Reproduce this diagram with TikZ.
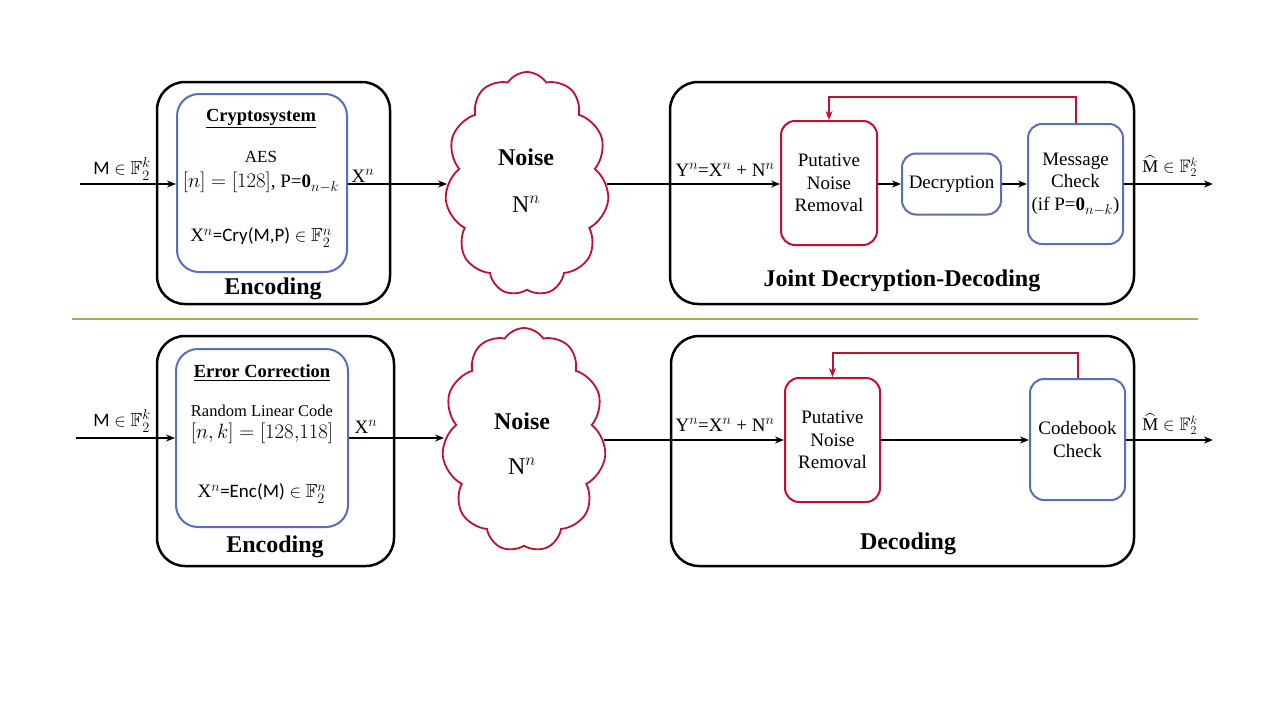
\documentclass[tikz,border=0pt]{standalone}
\usepackage{amsmath,amssymb}
\usepackage{fontspec}
\setmainfont{Liberation Serif}
\newfontfamily\calfont{Carlito}
\usetikzlibrary{shapes.symbols,arrows.meta}
\definecolor{myblue}{HTML}{5B6DB8}
\definecolor{myred}{HTML}{C01030}
\definecolor{mygreen}{HTML}{8FB75A}
\begin{document}
\begin{tikzpicture}[x=1pt,y=-1pt,
  outerbox/.style={draw=black, line width=2.5pt, rounded corners=28pt},
  innerbox/.style={draw=myblue, line width=2pt, rounded corners=22pt},
  redbox/.style={draw=myred, line width=2pt, rounded corners=14pt, align=center, font=\fontsize{19}{22.5}\selectfont},
  bluebox/.style={draw=myblue, line width=2pt, rounded corners=14pt, align=center, font=\fontsize{19}{22.5}\selectfont},
  noisecloud/.style={draw=myred, line width=1.8pt, cloud, cloud puffs=11, cloud puff arc=115, minimum width=164pt, minimum height=224pt},
  conn/.style={line width=2pt, -{Stealth[length=9pt,width=7pt]}},
  fb/.style={draw=myred, line width=2pt, -{Stealth[length=9pt,width=7pt]}},
  lbl/.style={inner sep=0pt, font=\fontsize{19}{22}\selectfont},
  title/.style={inner sep=0pt, font=\fontsize{24}{28}\selectfont\bfseries},
  sub/.style={inner sep=0pt, font=\fontsize{18.5}{22}\selectfont\bfseries}
]
\useasboundingbox (0,0) rectangle (1280,720);
\fill[white] (0,0) rectangle (1280,720);

% ===== TOP ROW =====
\coordinate (in1) at (80,184);
\node[outerbox, minimum width=233pt, minimum height=222pt] (enc1) at (273.5,193) {};
\node[innerbox, minimum width=170pt, minimum height=178pt] (crypto) at (262,183) {};
\node[sub] (cryptot) at (261,119) {\underline{Cryptosystem}};
\node[lbl, font=\fontsize{17}{20}\selectfont] (aes) at (261,157) {AES};
\node[lbl] (aes2) at (261,182) {{\fontsize{22}{24}\selectfont$[n]=[128]$}, P=$\mathbf{0}_{n-k}$};
\node[lbl] (cry) at (261,238) {X$^n${\calfont =Cry(M,P)} $\in\mathbb{F}_2^n$};
\node[title] (enct1) at (273,289) {Encoding};
\node[lbl] (m1) at (122,169) {{\calfont M} $\in\mathbb{F}_2^k$};
\draw[conn] (in1) -- (crypto.west |- in1);

\node[noisecloud] (cloud1) at (527,184) {};
\node[title] (noise1) at (526,157) {Noise};
\node[lbl, font=\fontsize{24}{26}\selectfont] (nn1) at (526,204) {N$^n$};
\node[lbl] (xn1) at (363,176) {X$^n$};
\draw[conn] (crypto.east |- in1) -- (cloud1.west |- in1);

\node[outerbox, minimum width=464pt, minimum height=222pt] (dec1) at (902,193) {};
\node[redbox, minimum width=96pt, minimum height=124pt] (pnr1) at (829,183) {Putative\\Noise\\Removal};
\node[bluebox, minimum width=99pt, minimum height=61pt] (decr) at (951.5,184) {Decryption};
\node[bluebox, minimum width=95pt, minimum height=120pt] (mc1) at (1075.5,184) {Message\\Check\\(if P=$\mathbf{0}_{n-k}$)};
\node[lbl] (y1) at (725,170) {Y$^n$=X$^n$ + N$^n$};
\draw[conn] (cloud1.east |- in1) -- (pnr1.west |- in1);
\draw[conn] (pnr1.east |- in1) -- (decr.west |- in1);
\draw[conn] (decr.east |- in1) -- (mc1.west |- in1);
\coordinate (out1) at (1213,184);
\draw[conn] (mc1.east |- out1) -- (out1);
\node[lbl, font=\fontsize{18}{22}\selectfont] (mh1) at (1170,166) {$\widehat{\mbox{M}}\in\mathbb{F}_2^k$};
\coordinate (fbtop1) at (1075,97);
\draw[fb] (mc1.north) -- (mc1.north |- fbtop1) -| (pnr1.north);
\node[title] (jdd) at (902,281) {Joint Decryption-Decoding};

% divider
\coordinate (g1) at (72,319);
\coordinate (g2) at (1198,319);
\draw[mygreen, line width=1.5pt] (g1) -- (g2);

% ===== BOTTOM ROW =====
\coordinate (in2) at (76,438);
\node[outerbox, minimum width=237pt, minimum height=230pt] (enc2) at (275.5,451) {};
\node[innerbox, minimum width=172pt, minimum height=178pt] (ecc) at (262,438) {};
\node[sub] (ecct) at (262,373) {\underline{Error Correction}};
\node[lbl, font=\fontsize{16.5}{20}\selectfont] (rlc) at (262,411) {Random Linear Code};
\node[lbl, font=\fontsize{20}{22}\selectfont] (nk) at (262,433) {$[n,k]=[128{,}118]$};
\node[lbl] (enc) at (262,494) {X$^n${\calfont =Enc(M)} $\in\mathbb{F}_2^n$};
\node[title] (enct2) at (275,547) {Encoding};
\node[lbl] (m2) at (122,421) {{\calfont M} $\in\mathbb{F}_2^k$};
\draw[conn] (in2) -- (ecc.west |- in2);

\node[noisecloud] (cloud2) at (524,440) {};
\node[title] (noise2) at (522,421) {Noise};
\node[lbl, font=\fontsize{24}{26}\selectfont] (nn2) at (522,466) {N$^n$};
\node[lbl] (xn2) at (366,427) {X$^n$};
\draw[conn] (ecc.east |- in2) -- (cloud2.west |- in2);

\coordinate (mid2) at (700,440);
\node[outerbox, minimum width=463pt, minimum height=230pt] (dec2) at (902.5,451) {};
\node[redbox, minimum width=95pt, minimum height=124pt] (pnr2) at (832.5,440) {Putative\\Noise\\Removal};
\node[bluebox, minimum width=95pt, minimum height=121pt] (cb) at (1077.5,439.5) {Codebook\\Check};
\node[lbl] (y2) at (725,425) {Y$^n$=X$^n$ + N$^n$};
\draw[conn] (cloud2.east |- mid2) -- (pnr2.west |- mid2);
\draw[conn] (pnr2.east |- mid2) -- (cb.west |- mid2);
\coordinate (out2) at (1213,440);
\draw[conn] (cb.east |- out2) -- (out2);
\node[lbl, font=\fontsize{18}{22}\selectfont] (mh2) at (1170,424) {$\widehat{\mbox{M}}\in\mathbb{F}_2^k$};
\coordinate (fbtop2) at (1077,353);
\draw[fb] (cb.north) -- (cb.north |- fbtop2) -| (pnr2.north);
\node[title] (dect) at (908,544) {Decoding};
\end{tikzpicture}
\end{document}
